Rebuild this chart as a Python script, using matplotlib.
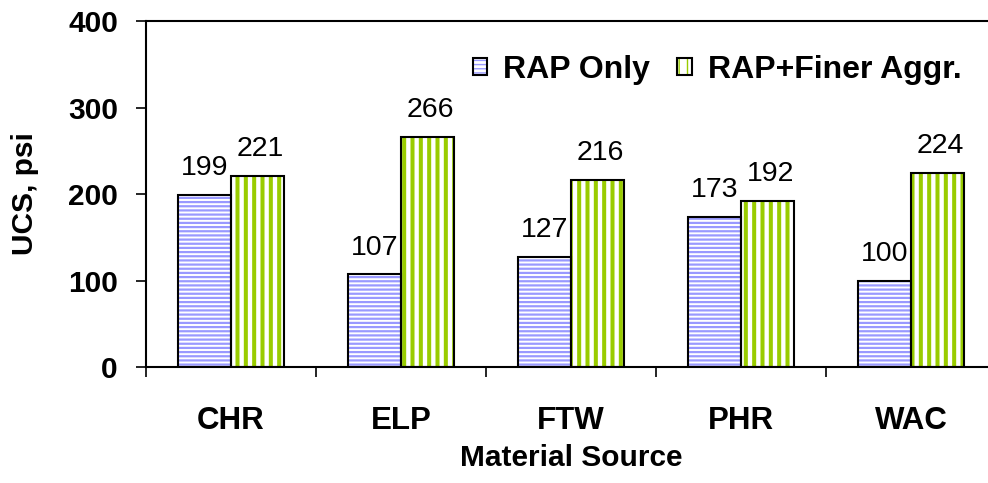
import matplotlib
matplotlib.use("Agg")
import matplotlib.pyplot as plt
from matplotlib.patches import Patch
import numpy as np

categories = ["CHR", "ELP", "FTW", "PHR", "WAC"]
rap_only = [199, 107, 127, 173, 100]
rap_finer = [221, 266, 216, 192, 224]
series_names = ["RAP Only", "RAP+Finer Aggr."]
y_ticks = [0, 100, 200, 300, 400]

plt.rcParams['font.family'] = ['Liberation Sans', 'DejaVu Sans']

fig = plt.figure(figsize=(9.88, 4.83), dpi=100)
ax = fig.add_axes([146/988, (483-367)/483, (996-146)/988, (367-21)/483])

x = np.arange(len(categories))
w = 0.31
blue = '#9999FF'
green = '#99CC00'

def hatched_bars(xpos, vals, color, hatch, hlw):
    with plt.rc_context({'hatch.linewidth': hlw}):
        bars = ax.bar(xpos, vals, w, facecolor='white', edgecolor=color,
                      hatch=hatch, linewidth=0, zorder=2)
        for b in bars:
            if hasattr(b, 'set_hatch_linewidth'):
                b.set_hatch_linewidth(hlw)
    ax.bar(xpos, vals, w, fill=False, edgecolor='black', linewidth=1.5, zorder=3)
    return bars

hatched_bars(x - w/2, rap_only, blue, '----', 1.6)
hatched_bars(x + w/2, rap_finer, green, '||', 2.9)

for xi, v in zip(x - w/2, rap_only):
    ax.annotate(str(v), (xi, v), xytext=(0, 10), textcoords='offset points',
                ha='center', va='bottom', fontsize=20.5)
for xi, v in zip(x + w/2, rap_finer):
    ax.annotate(str(v), (xi, v), xytext=(2, 10), textcoords='offset points',
                ha='center', va='bottom', fontsize=20.5)

ax.set_xlim(-0.5, len(categories) - 0.5)
ax.set_ylim(0, 400)
ax.set_yticks(y_ticks)
ax.set_yticklabels([str(t) for t in y_ticks], fontsize=21.5, fontweight='bold')
ax.tick_params(axis='y', direction='out', length=7.2, width=1.2, pad=13)
ax.set_xticks(x)
ax.set_xticklabels(categories, fontsize=22.5, fontweight='bold')
ax.set_xticks(np.arange(len(categories) + 1) - 0.5, minor=True)
ax.tick_params(axis='x', which='major', length=0, pad=28)
ax.tick_params(axis='x', which='minor', direction='out', length=7.5, width=1.2)

for s in ['left', 'bottom', 'top']:
    ax.spines[s].set_linewidth(1.5)
ax.spines['right'].set_visible(False)

ax.set_xlabel("Material Source", fontsize=21.5, fontweight='bold', labelpad=5.5)
ax.set_ylabel("UCS, psi", fontsize=21.5, fontweight='bold', labelpad=21)

def legend_handle(color, hatch, hlw):
    with plt.rc_context({'hatch.linewidth': hlw}):
        p1 = Patch(facecolor='white', edgecolor=color, hatch=hatch, linewidth=0)
        if hasattr(p1, 'set_hatch_linewidth'):
            p1.set_hatch_linewidth(hlw)
    p2 = Patch(fill=False, edgecolor='black', linewidth=1.5)
    return (p1, p2)

handles = [legend_handle(blue, '----', 1.6), legend_handle(green, '||', 2.9)]
leg = fig.legend(handles, series_names, loc='center left',
                 bbox_to_anchor=(473/988, 1 - 70/483), ncol=2, frameon=False,
                 prop={'size': 23, 'weight': 'bold'}, handlelength=0.45,
                 handleheight=0.45, handletextpad=0.5, columnspacing=0.85,
                 borderpad=0, borderaxespad=0)

fig.savefig("out.png", dpi=100)
